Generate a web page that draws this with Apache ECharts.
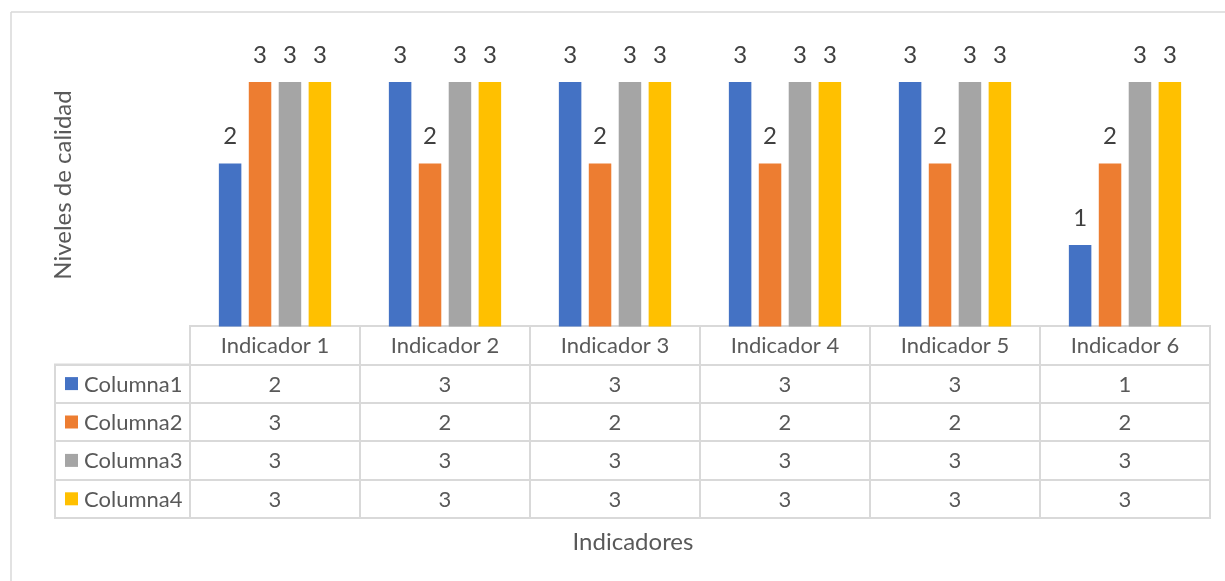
<!DOCTYPE html>
<html>
<head>
<meta charset="utf-8">
<script src="https://cdn.jsdelivr.net/npm/echarts@6/dist/echarts.min.js"></script>
<style>
  html, body { margin: 0; padding: 0; background: #fff; }
  #chart { width: 1225px; height: 581px; }
</style>
</head>
<body>
<div id="chart"></div>
<script>
const categories = ['Indicador 1', 'Indicador 2', 'Indicador 3', 'Indicador 4', 'Indicador 5', 'Indicador 6']
const seriesNames = ['Columna1', 'Columna2', 'Columna3', 'Columna4']
const columna1 = [2, 3, 3, 3, 3, 1]
const columna2 = [3, 2, 2, 2, 2, 2]
const columna3 = [3, 3, 3, 3, 3, 3]
const columna4 = [3, 3, 3, 3, 3, 3]

const values = [columna1, columna2, columna3, columna4]
const colors = ['#4472C4', '#ED7D31', '#A5A5A5', '#FFC000']
const font = 'Lato, "Open Sans", sans-serif'
const lineColor = '#d9d9d9'

const chart = echarts.init(document.getElementById('chart'))

// table cells: [col, row, text]; row 0 is the header
const tableCells = []
categories.forEach((c, i) => {
  tableCells.push([i, 0, c])
  values.forEach((arr, s) => tableCells.push([i, s + 1, String(arr[i])]))
})
const legendCells = seriesNames.map((n, s) => [0, s, n])

const bars = seriesNames.map((name, s) => ({
  name: name,
  type: 'bar',
  xAxisIndex: 0,
  yAxisIndex: 0,
  data: values[s],
  barWidth: 22.5,
  barGap: '33%',
  itemStyle: { color: colors[s] },
  label: {
    show: true,
    position: 'top',
    distance: 15,
    color: '#404040',
    fontSize: 24,
    lineHeight: 24,
    fontFamily: font,
  },
}))

chart.setOption({
  animation: false,
  graphic: [
    { type: 'line', shape: { x1: 11, y1: 12, x2: 1225, y2: 12 }, style: { stroke: lineColor, lineWidth: 1.5 } },
    { type: 'line', shape: { x1: 11, y1: 12, x2: 11, y2: 581 }, style: { stroke: lineColor, lineWidth: 1.5 } },
    {
      type: 'text',
      x: 63,
      y: 185,
      rotation: Math.PI / 2,
      style: {
        text: 'Niveles de calidad',
        fill: '#595959',
        font: '24px ' + font,
        align: 'center',
        verticalAlign: 'middle',
      },
    },
    {
      type: 'text',
      x: 633,
      y: 542,
      style: {
        text: 'Indicadores',
        fill: '#595959',
        font: '24px ' + font,
        align: 'center',
        verticalAlign: 'middle',
      },
    },
  ],
  grid: [
    { left: 190, right: 15, top: 82, bottom: 254.5 },
    { left: 190, right: 15, top: 326, height: 192, show: true, borderColor: lineColor, borderWidth: 2 },
    { left: 55, width: 135, top: 364.4, height: 153.6, show: true, borderColor: lineColor, borderWidth: 2 },
  ],
  xAxis: [
    { type: 'category', gridIndex: 0, data: categories, show: false },
    {
      type: 'category',
      gridIndex: 1,
      data: categories,
      axisLabel: { show: false },
      axisTick: { show: false },
      axisLine: { show: false },
      splitLine: { show: true, interval: 0, lineStyle: { color: lineColor, width: 2 } },
    },
    { type: 'category', gridIndex: 2, data: [''], show: false },
  ],
  yAxis: [
    { type: 'value', gridIndex: 0, min: 0, max: 3, show: false },
    {
      type: 'category',
      gridIndex: 1,
      inverse: true,
      data: [''].concat(seriesNames),
      axisLabel: { show: false },
      axisTick: { show: false },
      axisLine: { show: false },
      splitLine: { show: true, interval: 0, lineStyle: { color: lineColor, width: 2 } },
    },
    {
      type: 'category',
      gridIndex: 2,
      inverse: true,
      data: seriesNames,
      axisLabel: { show: false },
      axisTick: { show: false },
      axisLine: { show: false },
      splitLine: { show: true, interval: 0, lineStyle: { color: lineColor, width: 2 } },
    },
  ],
  series: bars.concat([
    {
      type: 'custom',
      xAxisIndex: 1,
      yAxisIndex: 1,
      data: tableCells,
      renderItem: (params, api) => {
        const p = api.coord([api.value(0), api.value(1)])
        return {
          type: 'text',
          x: p[0],
          y: p[1] + 1,
          style: {
            text: tableCells[params.dataIndex][2],
            fill: '#595959',
            font: '22px ' + font,
            align: 'center',
            verticalAlign: 'middle',
          },
        }
      },
    },
    {
      type: 'custom',
      xAxisIndex: 2,
      yAxisIndex: 2,
      data: legendCells,
      renderItem: (params, api) => {
        const p = api.coord([api.value(0), api.value(1)])
        const size = api.size([1, 1])
        const left = p[0] - size[0] / 2
        return {
          type: 'group',
          children: [
            {
              type: 'rect',
              shape: { x: left + 10, y: p[1] - 6.5, width: 13, height: 13 },
              style: { fill: colors[params.dataIndex] },
            },
            {
              type: 'text',
              x: left + 29,
              y: p[1] + 1,
              style: {
                text: legendCells[params.dataIndex][2],
                fill: '#595959',
                font: '22px ' + font,
                align: 'left',
                verticalAlign: 'middle',
              },
            },
          ],
        }
      },
    },
  ]),
})
</script>
</body>
</html>
